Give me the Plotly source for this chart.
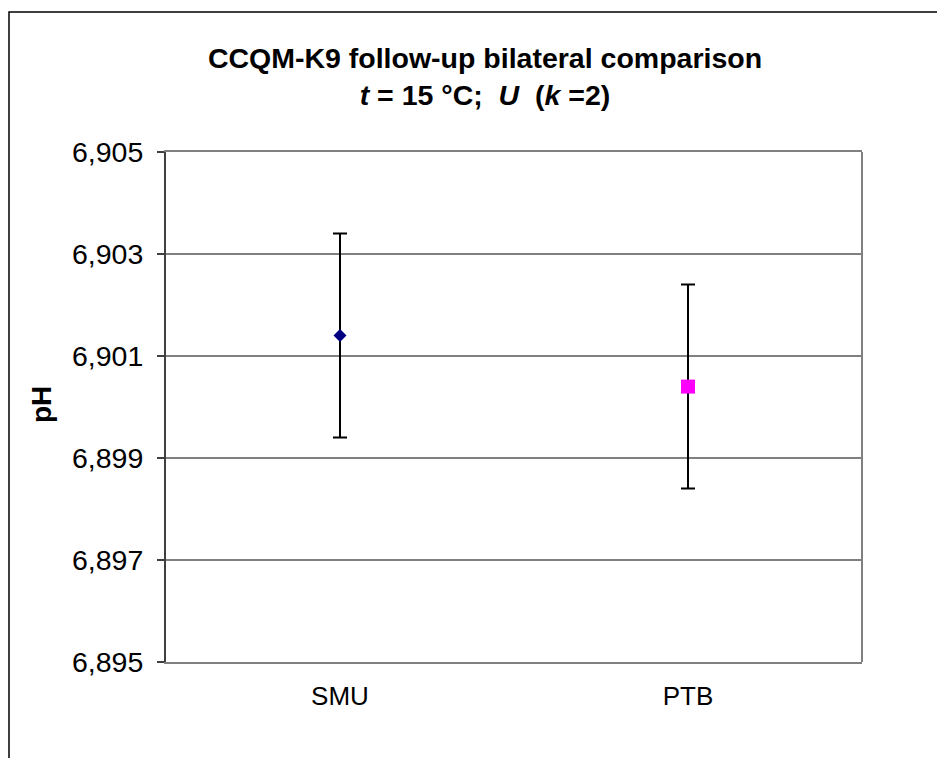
import plotly.graph_objects as go

labs = ["SMU", "PTB"]
ph_values = [6.9014, 6.9004]
expanded_u = [0.0020, 0.0020]
marker_symbols = ["diamond", "square"]
marker_colors = ["#000080", "#FF00FF"]
y_ticks = [6.895, 6.897, 6.899, 6.901, 6.903, 6.905]

# page body has an 8px margin, so the figure starts at (8, 8) on screen
OFF = 8
W, H = 937, 750
L, T = 166 - OFF, 152 - OFF
pw, ph = 696, 510
R, B = W - L - pw, H - T - ph

fig = go.Figure()
for i in range(len(labs)):
    fig.add_trace(go.Scatter(
        x=[labs[i]], y=[ph_values[i]], mode="markers",
        marker=dict(symbol=marker_symbols[i], color=marker_colors[i],
                    size=10 if marker_symbols[i] == "diamond" else 14,
                    line=dict(width=0)),
        error_y=dict(type="data", array=[expanded_u[i]], color="black",
                     thickness=2, width=7),
        showlegend=False,
    ))

def px_x(p):
    return (p - OFF - L) / pw

def px_y(p):
    return (T + ph - (p - OFF)) / ph

fig.update_layout(
    width=W, height=H,
    margin=dict(l=L, r=R, t=T, b=B, pad=0),
    paper_bgcolor="white", plot_bgcolor="white",
    separators=",.",
    font=dict(family="Liberation Sans, Arial, sans-serif", color="black", size=26),
    title=dict(
        text="CCQM-K9 follow-up bilateral comparison<br><i>t</i> = 15 °C;&nbsp; <i>U</i>&nbsp; (<i>k</i> =2)",
        font=dict(size=28.5, weight="bold", color="black"),
        x=px_x(485), xref="paper", xanchor="center",
        y=(H - 60) / H, yref="container", yanchor="middle",
    ),
    xaxis=dict(
        type="category", categoryorder="array", categoryarray=labs,
        range=[-0.5, 1.5], showgrid=False, zeroline=False,
        showline=True, linecolor="#808080", linewidth=2, mirror=True,
        ticks="", tickfont=dict(size=26), ticklabelstandoff=10,
    ),
    yaxis=dict(
        range=[y_ticks[0], y_ticks[-1]], tickvals=y_ticks, tickformat=".3f",
        showgrid=True, gridcolor="#808080", gridwidth=1.5, zeroline=False,
        showline=True, linecolor="#404040", linewidth=2,
        ticks="outside", ticklen=7, tickcolor="#404040", tickwidth=1.5,
        tickfont=dict(size=28.5), ticklabelstandoff=8,
    ),
    shapes=[
        dict(type="line", xref="paper", yref="paper", x0=1, x1=1, y0=0, y1=1,
             line=dict(color="#808080", width=2)),
        dict(type="rect", xref="paper", yref="paper",
             x0=px_x(9), x1=px_x(980), y0=px_y(800), y1=px_y(12),
             line=dict(color="black", width=1.5), layer="above"),
    ],
    annotations=[
        dict(text="<b>pH</b>", textangle=-90, xref="paper", yref="paper",
             x=px_x(41), y=px_y(405), showarrow=False,
             font=dict(size=28, color="black"), xanchor="center", yanchor="middle"),
    ],
)

fig.write_html("out.html")
